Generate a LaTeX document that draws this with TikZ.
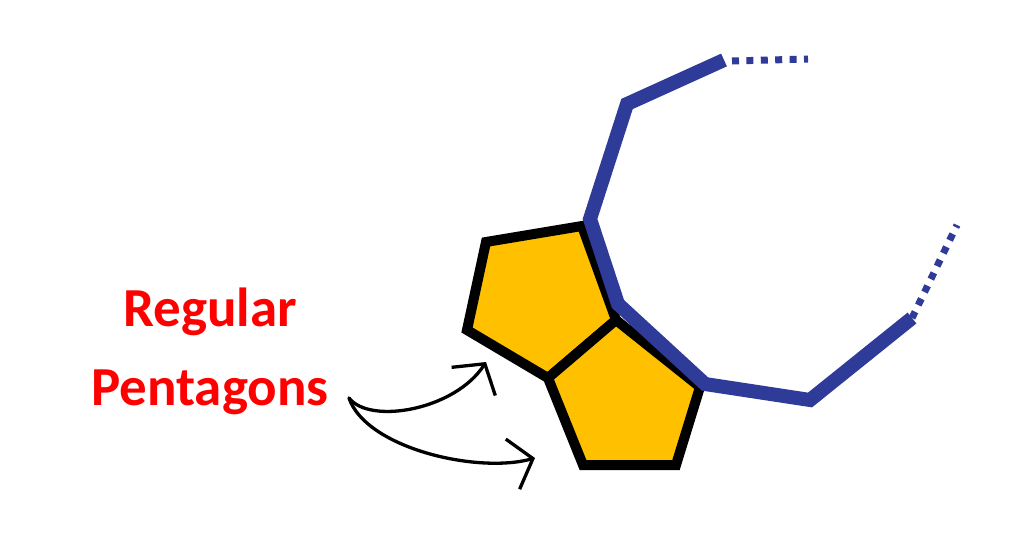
\documentclass[tikz,border=0pt]{standalone}
\usepackage{fontspec}
\setmainfont{Carlito}
\usetikzlibrary{positioning, arrows.meta}

\definecolor{pentafill}{HTML}{FFC000}
\definecolor{chainblue}{HTML}{2E3B98}
\definecolor{labelred}{HTML}{FF0000}

\tikzset{
  penta/.style={draw=black, line width=10pt, line join=miter, fill=pentafill},
  chain/.style={draw=chainblue, line width=14pt, line join=miter},
  chaindots/.style={draw=chainblue, line width=7pt, dash pattern=on 7pt off 7.4pt},
  pointer/.style={draw=black, line width=3.3pt, line cap=round,
    -{Straight Barb[length=21pt, width=52pt, line width=3.3pt]}}
}

\begin{document}
\begin{tikzpicture}[x=1pt, y=-1pt]
\useasboundingbox (0,0) rectangle (1024,549);

% Pentagon corners
\coordinate (p1) at (486,242);
\coordinate (p2) at (582,226);
\coordinate (p3) at (616,320);
\coordinate (p4) at (548,378);
\coordinate (p5) at (467,330);
\coordinate (q1) at (583,465);
\coordinate (q2) at (676,465);
\coordinate (q3) at (700,387);

% Pentagons
\draw[penta] (p1) -- (p2) -- (p3) -- (p4) -- (p5) -- cycle;
\draw[penta] (p3) -- (p4) -- (q1) -- (q2) -- (q3) -- cycle;

% Chain
\coordinate (c0) at (724,60);
\coordinate (c1) at (627,104);
\coordinate (c2) at (590,219);
\coordinate (c3) at (618,304);
\coordinate (c4) at (705,384);
\coordinate (c5) at (810,400);
\coordinate (c6) at (912,318);
\draw[chain] (c0) -- (c1) -- (c2) -- (c3) -- (c4) -- (c5) -- (c6);

% Open ends
\coordinate (d0) at (732,61);
\coordinate (d1) at (808,59);
\coordinate (d2) at (957,225);
\draw[chaindots] (d0) -- (d1);
\draw[chaindots] (c6) -- (d2);

% Label
\node[anchor=base, align=center, text=labelred,
  font=\fontsize{55}{79}\selectfont\bfseries] (lbl) at (210,405) {Regular\\Pentagons};

% Arrows
\coordinate (tail) at (349,398);
\coordinate (tipA) at (486,362);
\coordinate (tipB) at (535,458);
\draw[pointer] (tail) .. controls (370,425) and (455,410) .. (tipA);
\draw[pointer] (tail) .. controls (366,448) and (477,474) .. (tipB);

\end{tikzpicture}
\end{document}
